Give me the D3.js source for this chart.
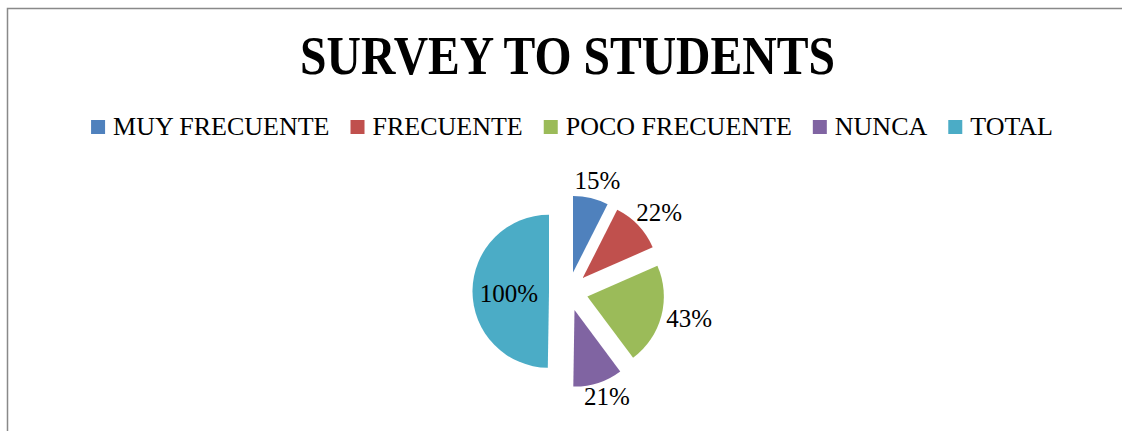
<!DOCTYPE html>
<html>
<head>
<meta charset="utf-8">
<script src="https://cdn.jsdelivr.net/npm/d3@7"></script>
<style>
  body { margin: 0; background: #fff; }
</style>
</head>
<body>
<div id="vis"></div>
<script>
// data
const categories = ["MUY FRECUENTE", "FRECUENTE", "POCO FRECUENTE", "NUNCA", "TOTAL"];
const values = [15, 22, 43, 21, 100];
const colors = ["#4F81BD", "#C0504D", "#9BBB59", "#8064A2", "#4BACC6"];
const title = "SURVEY TO STUDENTS";

const font = "'Times New Roman', 'Liberation Serif', 'DejaVu Serif', serif";

const svg = d3.select("#vis")
    .append("svg")
    .attr("width", 1122)
    .attr("height", 431)
    .style("font-family", font);

// chart frame (runs off the right and bottom edges)
svg.append("rect")
    .attr("x", 7.5)
    .attr("y", 8.5)
    .attr("width", 1200)
    .attr("height", 500)
    .attr("fill", "#fff")
    .attr("stroke", "#898989")
    .attr("stroke-width", 1.5);

svg.append("text")
    .attr("x", 567.5)
    .attr("y", 74)
    .attr("text-anchor", "middle")
    .style("font-family", font)
    .attr("font-size", 54)
    .attr("font-weight", "bold")
    .attr("textLength", 535)
    .attr("lengthAdjust", "spacingAndGlyphs")
    .text(title);

// legend
const color = d3.scaleOrdinal().domain(categories).range(colors);
const legend = svg.append("g");
let lx = 0;
categories.forEach(function (c) {
    const g = legend.append("g").attr("transform", "translate(" + lx + ",0)");
    g.append("rect")
        .attr("x", 0)
        .attr("y", -15)
        .attr("width", 14)
        .attr("height", 14)
        .attr("fill", color(c));
    const t = g.append("text")
        .attr("x", 22)
        .attr("y", 0)
        .style("font-family", font)
        .attr("font-size", 26)
        .attr("fill", "#000")
        .text(c);
    lx += 22 + t.node().getComputedTextLength() + 21;
});
lx -= 21;
legend.attr("transform", "translate(" + (572 - lx / 2) + ",135)");

// exploded pie
const cx = 568.5, cy = 291.5, r = 76.5, explode = 19.5;

const pie = d3.pie().sort(null).value(d => d)(values);
const arc = d3.arc().innerRadius(0).outerRadius(r);

const slices = svg.append("g")
    .attr("transform", "translate(" + cx + "," + cy + ")")
    .selectAll("g")
    .data(pie)
    .enter()
    .append("g")
    .attr("transform", function (d) {
        const a = (d.startAngle + d.endAngle) / 2;
        return "translate(" + (explode * Math.sin(a)) + "," + (-explode * Math.cos(a)) + ")";
    });

slices.append("path")
    .attr("d", arc)
    .attr("fill", (d, i) => color(categories[i]));

// data labels, set just outside each slice
slices.each(function (d, i) {
    const g = d3.select(this);
    const a = (d.startAngle + d.endAngle) / 2;
    const t = g.append("text")
        .style("font-family", font)
        .attr("font-size", 25)
        .attr("fill", "#000")
        .attr("text-anchor", "middle")
        .attr("dy", "0.35em")
        .text(values[i] + "%");
    if (categories[i] === "TOTAL") {
        const c = arc.centroid(d);
        t.attr("x", c[0] * 1.05).attr("y", c[1] + 2);
    } else {
        const w = t.node().getComputedTextLength();
        const h = 20;
        const pr = r + 6;
        const sx = Math.sin(a), sy = -Math.cos(a);
        t.attr("x", pr * sx + sx * w / 2)
         .attr("y", pr * sy + sy * h / 2 - 2);
    }
});
</script>
</body>
</html>
